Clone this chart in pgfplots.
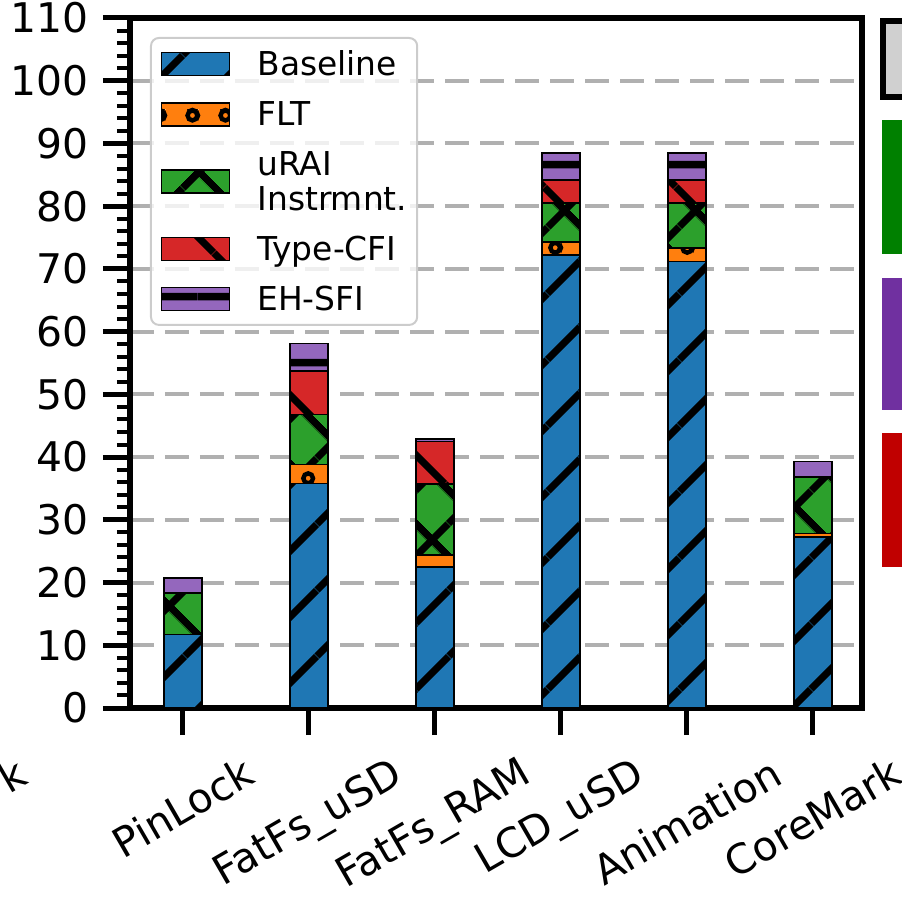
\documentclass[border=0pt]{standalone}
\usepackage{fontspec}
\setmainfont{DejaVu Sans}
\usepackage{graphicx}
\usepackage{pgfplots}
\pgfplotsset{compat=1.18}
\usetikzlibrary{patterns.meta}
\definecolor{cBase}{HTML}{1F77B4}
\definecolor{cFLT}{HTML}{FF7F0E}
\definecolor{cURAI}{HTML}{2CA02C}
\definecolor{cCFI}{HTML}{D62728}
\definecolor{cSFI}{HTML}{9467BD}
\definecolor{gridgray}{HTML}{B0B0B0}
\definecolor{dGreen}{HTML}{008000}
\definecolor{dPurple}{HTML}{7030A0}
\definecolor{dRed}{HTML}{C00000}
\definecolor{dGray}{HTML}{D0D0D0}

\tikzdeclarepattern{
  name=rings, type=uncolored,
  bounding box={(0bp,0bp) and (33bp,66bp)},
  tile size={(33bp,66bp)},
  code={
    \draw[line width=4.5bp] (11.5bp,27bp) circle[radius=5bp];
    \draw[line width=4.5bp] (28bp,60bp) circle[radius=5bp];
    \draw[line width=4.5bp] (28bp,-6bp) circle[radius=5bp];
    \draw[line width=4.5bp] (-5bp,60bp) circle[radius=5bp];
    \draw[line width=4.5bp] (-5bp,-6bp) circle[radius=5bp];
  }
}
\tikzdeclarepattern{
  name=hlines, type=uncolored,
  bounding box={(0bp,0bp) and (66bp,66bp)},
  tile size={(66bp,66bp)},
  code={\fill (0bp,6.75bp) rectangle (66bp,14.25bp);}
}

\pgfplotstableread{
x base flt urai cfi sfi
0 11.7 0.0 6.6 0.0 2.4
1 35.8 3.0 8.0 6.9 4.4
2 22.5 1.9 11.3 6.8 0.4
3 72.2 2.1 6.2 3.7 4.3
4 71.2 2.1 7.2 3.7 4.3
5 27.3 0.5 9.0 0.0 2.5
}\datatable

\pgfplotsset{
  mylegend/.style={legend image code/.code={
    \draw[##1, line width=1.5bp, sharp corners, fill opacity=1, draw opacity=1] (0bp,-11.5bp) rectangle (68bp,11.5bp);
    \path (95bp,0bp);}}
}

\begin{document}
\begin{tikzpicture}
\useasboundingbox (-130bp,-193bp) rectangle (772bp,708bp);
\begin{axis}[
  scale only axis, width=732bp, height=690bp,
  xmin=-0.42, xmax=5.39, ymin=0, ymax=110,
  ybar stacked, bar width=0.3,
  xtick={0,1,2,3,4,5},
  xticklabels={\rotatebox{30}{PinLock},\rotatebox{30}{FatFs\_uSD},\rotatebox{30}{FatFs\_RAM},\rotatebox{30}{LCD\_uSD},\rotatebox{30}{Animation},\rotatebox{30}{CoreMark}},
  ytick={0,10,...,110},
  minor y tick num=4,
  xtick pos=left, ytick pos=left,
  tick align=outside,
  major tick length=27bp, minor tick length=13bp,
  tick style={black},
  major tick style={line width=5bp},
  minor tick style={line width=4bp},
  axis line style={line width=6bp},
  ymajorgrids,
  major grid style={gridgray, line width=4bp, dash pattern=on 24bp off 11bp},
  /pgf/number format/assume math mode=true,
  tick label style={font=\fontsize{41}{49}\selectfont},
  yticklabel style={anchor=east, inner sep=0pt, xshift=-14bp},
  xticklabel style={anchor=north, inner sep=0pt, yshift=-20bp},
  every axis plot/.append style={draw=black, line width=1.5bp},
  legend style={at={(axis description cs:0.0273,0.9725)}, anchor=north west,
    draw=black!20, line width=2bp, rounded corners=8bp, fill=white,
    fill opacity=0.8, text opacity=1,
    font=\fontsize{33}{35}\selectfont,
    inner xsep=10bp, inner ysep=13bp, row sep=24bp,
    cells={anchor=west}, nodes={inner sep=0pt, align=left}},
]
\addplot[mylegend, fill=cBase, postaction={pattern color=black, pattern={Lines[angle=45,distance=47bp,line width=7.5bp]}}] table[x=x,y=base] {\datatable};
\addlegendentry{\strut Baseline}
\addplot[mylegend, fill=cFLT, postaction={pattern color=black, pattern=rings}] table[x=x,y=flt] {\datatable};
\addlegendentry{\strut FLT}
\addplot[mylegend, fill=cURAI, postaction={pattern color=black, pattern={Hatch[angle=45,distance=47bp,line width=7.5bp]}}] table[x=x,y=urai] {\datatable};
\addlegendentry{\strut uRAI\\\strut Instrmnt.}
\addplot[mylegend, fill=cCFI, postaction={pattern color=black, pattern={Lines[angle=-45,distance=47bp,line width=7.5bp]}}] table[x=x,y=cfi] {\datatable};
\addlegendentry{\strut Type-CFI}
\addplot[mylegend, fill=cSFI, postaction={pattern color=black, pattern=hlines}] table[x=x,y=sfi] {\datatable};
\addlegendentry{\strut EH-SFI}
\end{axis}
% decorations from neighbouring panels (cropped)
\draw[line width=6bp, fill=dGray] (753bp,611bp) rectangle (800bp,687bp);
\fill[dGreen] (752bp,454bp) rectangle (800bp,588bp);
\fill[dPurple] (752bp,298bp) rectangle (800bp,430bp);
\fill[dRed] (752bp,141bp) rectangle (800bp,275bp);
\node[rotate=30, font=\fontsize{41}{49}\selectfont] at (-118bp,-67bp) {k};
\end{tikzpicture}
\end{document}
